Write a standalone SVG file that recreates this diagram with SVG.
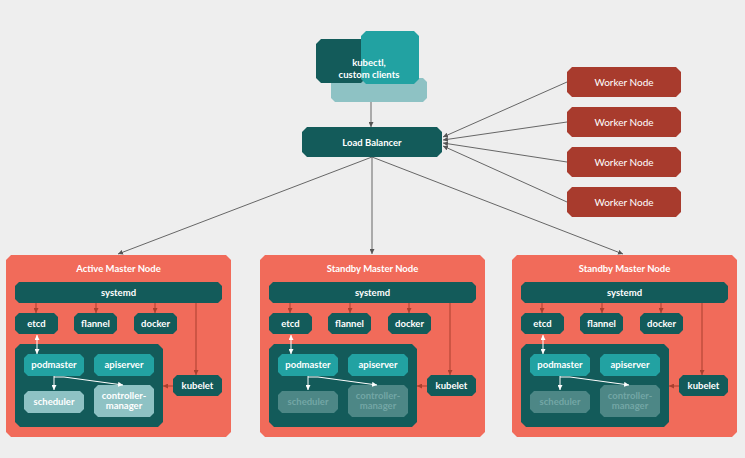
<svg xmlns="http://www.w3.org/2000/svg" width="745" height="458" viewBox="0 0 745 458">
<style>
.bg{fill:#eeeeee}
.master{fill:#f16b5a}
.dk{fill:#135b5a}
.tl{fill:#22a2a2}
.lt{fill:#8ec2c4}
.gy{fill:#4d8786}
.wk{fill:#a83b2d}
.t{font-family:Lato,"Open Sans","Liberation Sans",sans-serif;font-size:9.5px;font-weight:bold;fill:#ffffff;text-anchor:middle}
.tw{font-weight:normal;font-size:10px}
.tf{fill:#73a6a5}
.ln{fill:none;stroke:#666666;stroke-width:1}
.lb{fill:none;stroke:#a9402f;stroke-width:1}
.lw{fill:none;stroke:#ffffff;stroke-width:1}
</style>
<defs>
<marker id="aG" viewBox="0 0 6 6" refX="6" refY="3" markerWidth="5" markerHeight="5" markerUnits="userSpaceOnUse" orient="auto"><path d="M0,0 L6,3 L0,6 z" fill="#555555"/></marker>
<marker id="aB" viewBox="0 0 6 6" refX="6" refY="3" markerWidth="5" markerHeight="5" markerUnits="userSpaceOnUse" orient="auto"><path d="M0,0 L6,3 L0,6 z" fill="#a9402f"/></marker>
<marker id="aW" viewBox="0 0 6 6" refX="6" refY="3" markerWidth="5" markerHeight="5" markerUnits="userSpaceOnUse" orient="auto"><path d="M0,0 L6,3 L0,6 z" fill="#ffffff"/></marker>
<marker id="aWs" viewBox="0 0 6 6" refX="0" refY="3" markerWidth="5" markerHeight="5" markerUnits="userSpaceOnUse" orient="auto"><path d="M6,0 L0,3 L6,6 z" fill="#ffffff"/></marker>
</defs>
<rect class="bg" x="0" y="0" width="745" height="458"/>

<g id="connectors">
<line class="ln" x1="371" y1="102" x2="371" y2="127" marker-end="url(#aG)"/>
<line class="ln" x1="567" y1="82" x2="443" y2="137" marker-end="url(#aG)"/>
<line class="ln" x1="567" y1="122" x2="443" y2="140" marker-end="url(#aG)"/>
<line class="ln" x1="567" y1="162" x2="443" y2="143" marker-end="url(#aG)"/>
<line class="ln" x1="567" y1="202" x2="443" y2="146" marker-end="url(#aG)"/>
<line class="ln" x1="372" y1="157" x2="118" y2="254" marker-end="url(#aG)"/>
<line class="ln" x1="372" y1="157" x2="372" y2="254" marker-end="url(#aG)"/>
<line class="ln" x1="372" y1="157" x2="623" y2="254" marker-end="url(#aG)"/>
</g>

<g id="clients">
<polygon class="lt" points="335,78 423,78 427,82 427,98 423,102 335,102 331,98 331,82"/>
<polygon class="dk" points="321,39 361,39 366,44 366,78 361,83 321,83 316,78 316,44"/>
<polygon class="tl" points="366,31 414,31 419,36 419,79 414,84 366,84 361,79 361,36"/>
<text class="t" x="369" y="66">kubectl,</text>
<text class="t" x="369" y="78">custom clients</text>
</g>

<g id="load-balancer">
<polygon class="dk" points="307,127 437,127 442,132 442,152 437,157 307,157 302,152 302,132"/>
<text class="t" x="372" y="145.5">Load Balancer</text>
</g>

<g id="worker-1">
<polygon class="wk" points="572,67 676,67 681,72 681,92 676,97 572,97 567,92 567,72"/>
<text class="t tw" x="624" y="85.5">Worker Node</text>
</g>
<g id="worker-2">
<polygon class="wk" points="572,107 676,107 681,112 681,132 676,137 572,137 567,132 567,112"/>
<text class="t tw" x="624" y="125.5">Worker Node</text>
</g>
<g id="worker-3">
<polygon class="wk" points="572,147 676,147 681,152 681,172 676,177 572,177 567,172 567,152"/>
<text class="t tw" x="624" y="165.5">Worker Node</text>
</g>
<g id="worker-4">
<polygon class="wk" points="572,187 676,187 681,192 681,212 676,217 572,217 567,212 567,192"/>
<text class="t tw" x="624" y="205.5">Worker Node</text>
</g>

<g id="master-active">
<polygon class="master" points="11,255 226,255 231,260 231,432 226,437 11,437 6,432 6,260"/>
<text class="t" x="118.5" y="271.5">Active Master Node</text>
<polygon class="dk" points="19,282 218,282 222,286 222,299 218,303 19,303 15,299 15,286"/>
<text class="t" x="118.5" y="296.2">systemd</text>
<polygon class="dk" points="19,313 54,313 58,317 58,330 54,334 19,334 15,330 15,317"/>
<text class="t" x="36.5" y="327.2">etcd</text>
<polygon class="dk" points="78,313 113,313 117,317 117,330 113,334 78,334 74,330 74,317"/>
<text class="t" x="95.5" y="327.2">flannel</text>
<polygon class="dk" points="138,313 173,313 177,317 177,330 173,334 138,334 134,330 134,317"/>
<text class="t" x="155.5" y="327.2">docker</text>
<polygon class="dk" points="20,344 158,344 163,349 163,422 158,427 20,427 15,422 15,349"/>
<polygon class="tl" points="28,354 80,354 84,358 84,372 80,376 28,376 24,372 24,358"/>
<text class="t" x="54" y="368.2">podmaster</text>
<polygon class="tl" points="98,354 150,354 154,358 154,372 150,376 98,376 94,372 94,358"/>
<text class="t" x="124" y="368.2">apiserver</text>
<polygon class="lt" points="28,391 80,391 84,395 84,409 80,413 28,413 24,409 24,395"/>
<text class="t" x="54" y="405.2">scheduler</text>
<polygon class="lt" points="98,385 150,385 154,389 154,413 150,417 98,417 94,413 94,389"/>
<text class="t" x="124" y="398.5">controller-</text>
<text class="t" x="124" y="408.5">manager</text>
<polygon class="dk" points="177,375 218,375 222,379 222,392 218,396 177,396 173,392 173,379"/>
<text class="t" x="197.5" y="389.2">kubelet</text>
<line class="lb" x1="36" y1="303" x2="36" y2="313" marker-end="url(#aB)"/>
<line class="lb" x1="96" y1="303" x2="96" y2="313" marker-end="url(#aB)"/>
<line class="lb" x1="155" y1="303" x2="155" y2="313" marker-end="url(#aB)"/>
<line class="lb" x1="196" y1="303" x2="196" y2="375" marker-end="url(#aB)"/>
<line class="lb" x1="173" y1="386" x2="163" y2="386" marker-end="url(#aB)"/>
<line class="lw" x1="37" y1="335" x2="37" y2="354" marker-start="url(#aWs)" marker-end="url(#aW)"/>
<line class="lw" x1="54" y1="376" x2="54" y2="390" marker-end="url(#aW)"/>
<polyline class="lw" points="54,377 64,377 123,385" marker-end="url(#aW)"/>
</g>

<g id="master-standby-1" transform="translate(254,0)">
<polygon class="master" points="11,255 226,255 231,260 231,432 226,437 11,437 6,432 6,260"/>
<text class="t" x="118.5" y="271.5">Standby Master Node</text>
<polygon class="dk" points="19,282 218,282 222,286 222,299 218,303 19,303 15,299 15,286"/>
<text class="t" x="118.5" y="296.2">systemd</text>
<polygon class="dk" points="19,313 54,313 58,317 58,330 54,334 19,334 15,330 15,317"/>
<text class="t" x="36.5" y="327.2">etcd</text>
<polygon class="dk" points="78,313 113,313 117,317 117,330 113,334 78,334 74,330 74,317"/>
<text class="t" x="95.5" y="327.2">flannel</text>
<polygon class="dk" points="138,313 173,313 177,317 177,330 173,334 138,334 134,330 134,317"/>
<text class="t" x="155.5" y="327.2">docker</text>
<polygon class="dk" points="20,344 158,344 163,349 163,422 158,427 20,427 15,422 15,349"/>
<polygon class="tl" points="28,354 80,354 84,358 84,372 80,376 28,376 24,372 24,358"/>
<text class="t" x="54" y="368.2">podmaster</text>
<polygon class="tl" points="98,354 150,354 154,358 154,372 150,376 98,376 94,372 94,358"/>
<text class="t" x="124" y="368.2">apiserver</text>
<polygon class="gy" points="28,391 80,391 84,395 84,409 80,413 28,413 24,409 24,395"/>
<text class="t tf" x="54" y="405.2">scheduler</text>
<polygon class="gy" points="98,385 150,385 154,389 154,413 150,417 98,417 94,413 94,389"/>
<text class="t tf" x="124" y="398.5">controller-</text>
<text class="t tf" x="124" y="408.5">manager</text>
<polygon class="dk" points="177,375 218,375 222,379 222,392 218,396 177,396 173,392 173,379"/>
<text class="t" x="197.5" y="389.2">kubelet</text>
<line class="lb" x1="36" y1="303" x2="36" y2="313" marker-end="url(#aB)"/>
<line class="lb" x1="96" y1="303" x2="96" y2="313" marker-end="url(#aB)"/>
<line class="lb" x1="155" y1="303" x2="155" y2="313" marker-end="url(#aB)"/>
<line class="lb" x1="196" y1="303" x2="196" y2="375" marker-end="url(#aB)"/>
<line class="lb" x1="173" y1="386" x2="163" y2="386" marker-end="url(#aB)"/>
<line class="lw" x1="37" y1="335" x2="37" y2="354" marker-start="url(#aWs)" marker-end="url(#aW)"/>
<line class="lw" x1="54" y1="376" x2="54" y2="390" marker-end="url(#aW)"/>
<polyline class="lw" points="54,377 64,377 123,385" marker-end="url(#aW)"/>
</g>

<g id="master-standby-2" transform="translate(506,0)">
<polygon class="master" points="11,255 226,255 231,260 231,432 226,437 11,437 6,432 6,260"/>
<text class="t" x="118.5" y="271.5">Standby Master Node</text>
<polygon class="dk" points="19,282 218,282 222,286 222,299 218,303 19,303 15,299 15,286"/>
<text class="t" x="118.5" y="296.2">systemd</text>
<polygon class="dk" points="19,313 54,313 58,317 58,330 54,334 19,334 15,330 15,317"/>
<text class="t" x="36.5" y="327.2">etcd</text>
<polygon class="dk" points="78,313 113,313 117,317 117,330 113,334 78,334 74,330 74,317"/>
<text class="t" x="95.5" y="327.2">flannel</text>
<polygon class="dk" points="138,313 173,313 177,317 177,330 173,334 138,334 134,330 134,317"/>
<text class="t" x="155.5" y="327.2">docker</text>
<polygon class="dk" points="20,344 158,344 163,349 163,422 158,427 20,427 15,422 15,349"/>
<polygon class="tl" points="28,354 80,354 84,358 84,372 80,376 28,376 24,372 24,358"/>
<text class="t" x="54" y="368.2">podmaster</text>
<polygon class="tl" points="98,354 150,354 154,358 154,372 150,376 98,376 94,372 94,358"/>
<text class="t" x="124" y="368.2">apiserver</text>
<polygon class="gy" points="28,391 80,391 84,395 84,409 80,413 28,413 24,409 24,395"/>
<text class="t tf" x="54" y="405.2">scheduler</text>
<polygon class="gy" points="98,385 150,385 154,389 154,413 150,417 98,417 94,413 94,389"/>
<text class="t tf" x="124" y="398.5">controller-</text>
<text class="t tf" x="124" y="408.5">manager</text>
<polygon class="dk" points="177,375 218,375 222,379 222,392 218,396 177,396 173,392 173,379"/>
<text class="t" x="197.5" y="389.2">kubelet</text>
<line class="lb" x1="36" y1="303" x2="36" y2="313" marker-end="url(#aB)"/>
<line class="lb" x1="96" y1="303" x2="96" y2="313" marker-end="url(#aB)"/>
<line class="lb" x1="155" y1="303" x2="155" y2="313" marker-end="url(#aB)"/>
<line class="lb" x1="196" y1="303" x2="196" y2="375" marker-end="url(#aB)"/>
<line class="lb" x1="173" y1="386" x2="163" y2="386" marker-end="url(#aB)"/>
<line class="lw" x1="37" y1="335" x2="37" y2="354" marker-start="url(#aWs)" marker-end="url(#aW)"/>
<line class="lw" x1="54" y1="376" x2="54" y2="390" marker-end="url(#aW)"/>
<polyline class="lw" points="54,377 64,377 123,385" marker-end="url(#aW)"/>
</g>
</svg>
